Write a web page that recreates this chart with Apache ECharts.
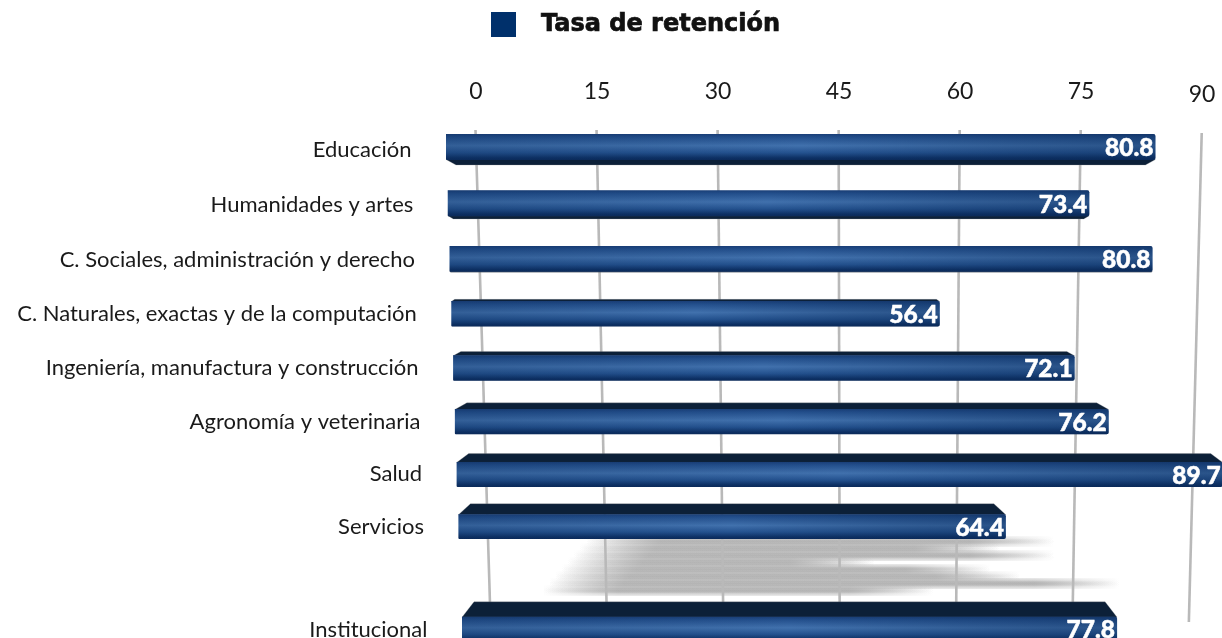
<!DOCTYPE html>
<html><head><meta charset="utf-8">
<style>html,body{margin:0;padding:0;background:#fff}#c{width:1222px;height:638px}</style>
<script src="https://cdn.jsdelivr.net/npm/echarts@6/dist/echarts.min.js"></script>
</head><body><div id="c"></div>
<script>
const seriesName = 'Tasa de retención';
const categories = ['Educación','Humanidades y artes','C. Sociales, administración y derecho','C. Naturales, exactas y de la computación','Ingeniería, manufactura y construcción','Agronomía y veterinaria','Salud','Servicios',' ','Institucional'];
const values = [80.8,73.4,80.8,56.4,72.1,76.2,89.7,64.4,null,77.8];
const axisTicks = [0,15,30,45,60,75,90];

const FONT = 'Lato';
const GL = 476, GR = 1202, Y0 = 149, Y9 = 621, BAND = (Y9 - Y0) / 9;
const baseScale = (GR - GL) / 90;

const chart = echarts.init(document.getElementById('c'));
const lin = (a, b, t) => a + (b - a) * t;
const warp = y => { const u = (y - Y0) / (Y9 - Y0); return { u, y: Y0 + 0.5 + 499.5 * u - 27.5 * u * u }; };

function renderGrid(params, api) {
  const v = api.value(0);
  const cx = api.coord([v, 0])[0];
  const at = y => {
    const t = (y - 130) / 490;
    return [lin(475.5, 490.5, t) + (cx - GL) * lin(8.07, 7.76, t) / baseScale, y];
  };
  const yTop = v === 90 ? 133 : 130;
  return { type: 'polyline', shape: { points: [at(yTop), at(622)] },
           style: { stroke: '#b9b9b9', lineWidth: 2.6, fill: null } };
}

function renderShadow(params, api) {
  const i = params.dataIndex;
  const cx = api.coord([api.value(0), 0])[0];
  const xEnd = 445 + (cx - GL) * 0.912 + 15;
  const xStart = 586 - i * 6.2;
  const yc = 541.5 + i * 7;
  const grad = a => ({ type: 'linear', x: 0, y: 0, x2: 1, y2: 0, colorStops: [
    { offset: 0, color: 'rgba(150,150,150,0)' },
    { offset: Math.min(.45, 75 / (xEnd - xStart)), color: 'rgba(150,150,150,' + a + ')' },
    { offset: Math.max(.55, 1 - 85 / (xEnd - xStart)), color: 'rgba(150,150,150,' + a + ')' },
    { offset: 1, color: 'rgba(150,150,150,0)' } ] });
  const kids = [[11, .24], [8, .26], [5, .28], [2.5, .28]].map(p => ({
    type: 'rect', shape: { x: xStart, y: yc - p[0] / 2, width: xEnd - xStart, height: p[0] },
    style: { fill: grad(p[1]) } }));
  return { type: 'group', children: kids };
}

function renderBar(params, api) {
  const val = api.value(0), idx = api.value(1);
  const xPix = api.coord([val, idx]);
  const w = warp(xPix[1]), u = w.u;
  const x0 = lin(446, 462, u), scale = lin(8.78, 8.42, u);
  const xR = x0 + (xPix[0] - GL) * scale / baseScale;
  const d = -5 + 20 * u, ad = Math.abs(d);
  const FH = lin(26, 24.5, u), H = FH + ad;
  const top = w.y - H / 2;
  const fTop = d > 0 ? top + ad : top;
  const fBot = fTop + FH;
  const ch = Math.min(12, 2 * ad);
  const side = d > 0
    ? [[x0, fTop + .5], [x0 + ch, top], [xR - ch, top], [xR, fTop + .5]]
    : [[x0, fBot - .5], [x0 + ch, fBot + ad], [xR - ch, fBot + ad], [xR, fBot - .5]];
  const r = 2;
  return { type: 'group', children: [
    { type: 'polygon', shape: { points: side }, style: { fill: '#0c2038', stroke: 'rgba(150,150,150,.45)', lineWidth: .6 } },
    { type: 'rect', shape: { x: x0, y: fTop, width: xR - x0, height: FH, r: [0, r, r, 1] },
      style: { fill: { type: 'linear', x: 0, y: 0, x2: 0, y2: 1, colorStops: [
        { offset: 0, color: '#1a3f78' }, { offset: .12, color: '#234f8c' },
        { offset: .45, color: '#4171ad' }, { offset: .72, color: '#24528f' },
        { offset: .92, color: '#0d3064' }, { offset: 1, color: '#0b2a5a' } ] } } },
    { type: 'rect', shape: { x: x0, y: fTop, width: xR - x0, height: FH, r: [0, r, r, 1] },
      style: { fill: { type: 'linear', x: 0, y: 0, x2: 1, y2: 0, colorStops: [
        { offset: 0, color: 'rgba(10,42,87,.25)' }, { offset: .5, color: 'rgba(10,42,87,0)' },
        { offset: .8, color: 'rgba(10,42,87,.28)' }, { offset: 1, color: 'rgba(10,42,87,.42)' } ] } } },
    { type: 'text', style: { x: xR - 2, y: fTop + FH / 2 + 1.5, text: val.toFixed(1), align: 'right', verticalAlign: 'middle',
        fill: '#fff', font: '900 24.5px ' + FONT, stroke: '#fff', lineWidth: .5 } },
    { type: 'text', style: { x: lin(411.5, 427.5, u), y: w.y + .5 + 8 * u * u, text: categories[idx], align: 'right', verticalAlign: 'middle',
        fill: '#1a1a1a', font: '400 22px ' + FONT } }
  ] };
}

chart.setOption({
  animation: false,
  backgroundColor: '#fff',
  legend: { data: [seriesName], left: 491, top: 12, padding: 0, icon: 'rect', itemWidth: 25, itemHeight: 25, itemGap: 0, selectedMode: false,
    textStyle: { fontFamily: 'DejaVu Sans', fontWeight: 'bold', fontSize: 24, color: '#111', textBorderColor: '#111', textBorderWidth: .7, padding: [6, 0, 0, 20] } },
  grid: { left: GL, width: GR - GL, top: Y0 - BAND / 2, height: BAND * 10, outerBoundsMode: 'none', containLabel: false },
  xAxis: { type: 'value', position: 'top', min: 0, max: 90, interval: 15,
    axisLine: { show: false }, axisTick: { show: false }, splitLine: { show: false },
    axisLabel: { margin: 17, fontFamily: FONT, fontSize: 23, color: '#1a1a1a', interval: 0,
      formatter: v => v === 90 ? String(v) : '{up|' + v + '}',
      rich: { up: { fontFamily: FONT, fontSize: 23, color: '#1a1a1a', padding: [0, 0, 3, 0] } } } },
  yAxis: { type: 'category', inverse: true, data: categories, show: false },
  series: [
    { type: 'custom', name: 'ticks', coordinateSystem: 'cartesian2d', silent: true, z: 1,
      data: axisTicks.map(t => [t, 0]), encode: { x: 0, y: 1 }, renderItem: renderGrid },
    { type: 'custom', name: 'sombra', coordinateSystem: 'cartesian2d', silent: true, z: 0,
      data: values.filter(v => v !== null).slice(0, 8).map(v => [v, 0]), encode: { x: 0, y: 1 }, renderItem: renderShadow },
    { type: 'custom', name: seriesName, coordinateSystem: 'cartesian2d', silent: true, z: 2, clip: false,
      itemStyle: { color: '#00306b' },
      data: values.map((v, i) => [v, i]).filter(r => r[0] !== null), encode: { x: 0, y: 1 }, renderItem: renderBar }
  ]
});
</script></body></html>
